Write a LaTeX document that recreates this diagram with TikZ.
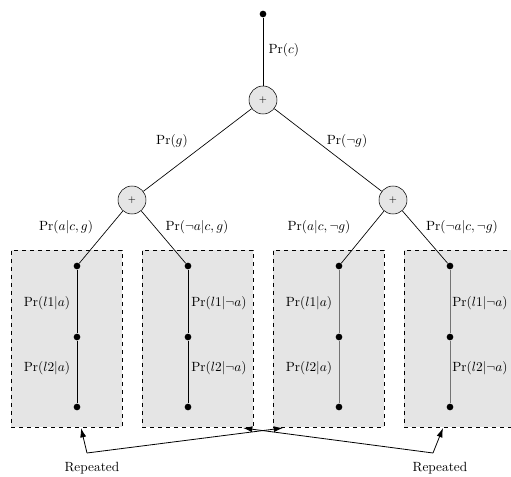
\documentclass[tikz,border=0pt]{standalone}
\usetikzlibrary{arrows.meta}
\definecolor{boxgray}{gray}{0.9}
\definecolor{chaingray}{gray}{0.45}
\begin{document}
\begin{tikzpicture}[x=0.75pt,y=-0.75pt,
  dotnode/.style={circle,fill=black,inner sep=0pt,minimum size=5pt},
  plusnode/.style={circle,draw=black,fill=boxgray,inner sep=0pt,minimum size=21pt,font=\scriptsize},
  grpbox/.style={draw=black,dashed,fill=boxgray},
  edge/.style={draw=black,line width=0.5pt},
  chain/.style={line width=0.75pt},
  lbl/.style={inner sep=1pt},
  rep/.style={-{Latex[length=7pt,width=4.5pt]},line width=0.6pt}]
\useasboundingbox (0,0) rectangle (511,477);
% boxes
\node[grpbox,minimum width=83.25pt,minimum height=132.75pt,inner sep=0pt] (b1) at (66.5,338.5) {};
\node[grpbox,minimum width=83.25pt,minimum height=132.75pt,inner sep=0pt] (b2) at (197.5,338.5) {};
\node[grpbox,minimum width=83.25pt,minimum height=132.75pt,inner sep=0pt] (b3) at (328.5,338.5) {};
\node[grpbox,minimum width=83.25pt,minimum height=132.75pt,inner sep=0pt] (b4) at (459.5,338.5) {};
% top
\node[dotnode] (r) at (263,14) {};
\node[plusnode] (p0) at (263,100) {+};
\node[plusnode] (p1) at (132,200) {+};
\node[plusnode] (p2) at (393,200) {+};
\draw[edge] (r) -- (p0);
\draw[edge] (p0) -- (p1);
\draw[edge] (p0) -- (p2);
\node[lbl,anchor=west] (lc) at (267,50) {$\Pr(c)$};
\node[lbl] (lg) at (172,141) {$\Pr(g)$};
\node[lbl] (lng) at (347,141) {$\Pr(\neg g)$};
% chains
\foreach \n/\x/\c in {1/77/black,2/188/black,3/339/chaingray,4/450/chaingray}{
  \node[dotnode] (t\n) at (\x,266) {};
  \node[dotnode] (m\n) at (\x,337) {};
  \node[dotnode] (e\n) at (\x,407) {};
  \draw[chain,\c] (t\n) -- (m\n) -- (e\n);
}
\draw[edge] (p1) -- (t1);
\draw[edge] (p1) -- (t2);
\draw[edge] (p2) -- (t3);
\draw[edge] (p2) -- (t4);
\node[lbl] (la1) at (66,227) {$\Pr(a|c,g)$};
\node[lbl] (la2) at (197,227) {$\Pr(\neg a|c,g)$};
\node[lbl] (la3) at (319,227) {$\Pr(a|c,\neg g)$};
\node[lbl] (la4) at (462,227) {$\Pr(\neg a|c,\neg g)$};
% chain labels
\node[lbl] (c11) at (47,303) {$\Pr(l1|a)$};
\node[lbl] (c12) at (47,368) {$\Pr(l2|a)$};
\node[lbl] (c21) at (219,303) {$\Pr(l1|\neg a)$};
\node[lbl] (c22) at (219,368) {$\Pr(l2|\neg a)$};
\node[lbl] (c31) at (309,303) {$\Pr(l1|a)$};
\node[lbl] (c32) at (309,368) {$\Pr(l2|a)$};
\node[lbl] (c41) at (480,303) {$\Pr(l1|\neg a)$};
\node[lbl] (c42) at (480,368) {$\Pr(l2|\neg a)$};
% repeated
\node[lbl] (rl) at (92,468) {Repeated};
\node[lbl] (rr) at (440,468) {Repeated};
\coordinate (cl) at (87,453);
\coordinate (cr) at (433,453);
\coordinate (a1) at (81,428);
\coordinate (a3) at (283,428);
\coordinate (a2) at (243,428);
\coordinate (a4) at (443,428);
\draw[rep] (cl) -- (a1);
\draw[rep] (cl) -- (a3);
\draw[rep] (cr) -- (a4);
\draw[rep] (cr) -- (a2);
\end{tikzpicture}
\end{document}
